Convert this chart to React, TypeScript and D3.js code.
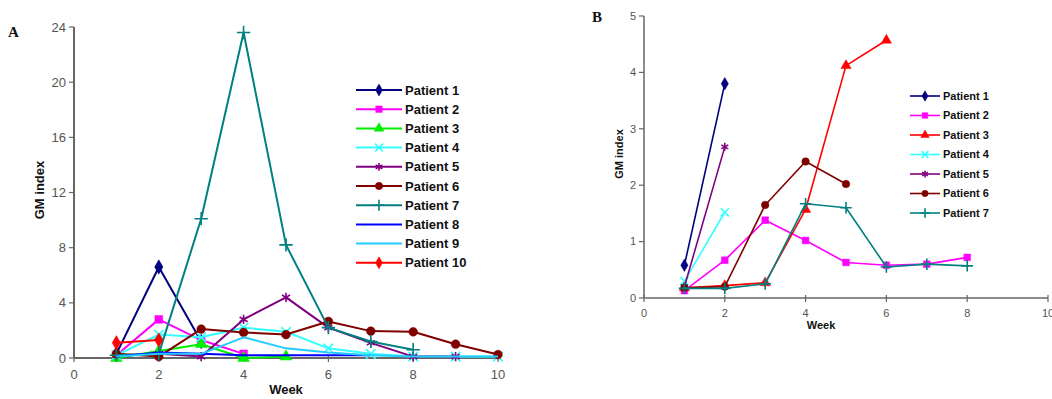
import React from "react";
import * as d3 from "d3";

const weeks = [1, 2, 3, 4, 5, 6, 7, 8, 9, 10];

// Panel A series (null = no measurement)
const aP1 = [0.3, 6.6, 1.2, null, null, null, null, null, null, null];
const aP2 = [0.2, 2.8, 1.3, 0.3, null, null, null, null, null, null];
const aP3 = [0.0, 0.5, 1.0, 0.0, 0.1, null, null, null, null, null];
const aP4 = [0.2, 1.7, 1.5, 2.2, 1.9, 0.7, 0.3, 0.1, 0.1, 0.1];
const aP5 = [0.2, 0.3, 0.1, 2.8, 4.4, 2.2, 1.1, 0.1, 0.1, null];
const aP6 = [0.3, 0.1, 2.1, 1.85, 1.7, 2.65, 1.95, 1.9, 1.0, 0.25];
const aP7 = [0.2, 0.3, 10.1, 23.6, 8.2, 2.2, 1.2, 0.6, null, null];
const aP8 = [0.1, 0.4, 0.3, 0.2, 0.2, 0.2, 0.2, null, null, null];
const aP9 = [0.1, 0.3, 0.3, 1.5, 0.7, 0.4, 0.2, 0.1, 0.1, 0.1];
const aP10 = [1.1, 1.3, null, null, null, null, null, null, null, null];

// Panel B series
const bP1 = [0.58, 3.8, null, null, null, null, null, null];
const bP2 = [0.13, 0.67, 1.38, 1.02, 0.63, 0.58, 0.6, 0.72];
const bP3 = [0.18, 0.22, 0.27, 1.57, 4.12, 4.57, null, null];
const bP4 = [0.3, 1.52, null, null, null, null, null, null];
const bP5 = [0.2, 2.68, null, null, null, null, null, null];
const bP6 = [0.18, 0.2, 1.65, 2.42, 2.02, null, null, null];
const bP7 = [0.17, 0.17, 0.25, 1.67, 1.6, 0.55, 0.6, 0.57];

const xTicks = [0, 2, 4, 6, 8, 10];
const aYTicks = [0, 4, 8, 12, 16, 20, 24];
const bYTicks = [0, 1, 2, 3, 4, 5];

type Marker = "diamond" | "square" | "triangle" | "x" | "asterisk" | "circle" | "plus" | "none";

interface Series {
  name: string;
  values: (number | null)[];
  color: string;
  marker: Marker;
}

const seriesA: Series[] = [
  { name: "Patient 1", values: aP1, color: "#000080", marker: "diamond" },
  { name: "Patient 2", values: aP2, color: "#ff00ff", marker: "square" },
  { name: "Patient 3", values: aP3, color: "#00ee00", marker: "triangle" },
  { name: "Patient 4", values: aP4, color: "#33ffff", marker: "x" },
  { name: "Patient 5", values: aP5, color: "#800080", marker: "asterisk" },
  { name: "Patient 6", values: aP6, color: "#800000", marker: "circle" },
  { name: "Patient 7", values: aP7, color: "#008080", marker: "plus" },
  { name: "Patient 8", values: aP8, color: "#0000ff", marker: "none" },
  { name: "Patient 9", values: aP9, color: "#22ccff", marker: "none" },
  { name: "Patient 10", values: aP10, color: "#ff0000", marker: "diamond" },
];

const seriesB: Series[] = [
  { name: "Patient 1", values: bP1, color: "#000080", marker: "diamond" },
  { name: "Patient 2", values: bP2, color: "#ff00ff", marker: "square" },
  { name: "Patient 3", values: bP3, color: "#ff0000", marker: "triangle" },
  { name: "Patient 4", values: bP4, color: "#33ffff", marker: "x" },
  { name: "Patient 5", values: bP5, color: "#800080", marker: "asterisk" },
  { name: "Patient 6", values: bP6, color: "#800000", marker: "circle" },
  { name: "Patient 7", values: bP7, color: "#008080", marker: "plus" },
];

const symbolType: Record<string, any> = {
  diamond: d3.symbolDiamond,
  square: d3.symbolSquare,
  triangle: d3.symbolTriangle,
  circle: d3.symbolCircle,
  x: d3.symbolX,
  asterisk: d3.symbolAsterisk,
  plus: d3.symbolPlus,
};

const stroked = new Set(["x", "asterisk", "plus"]);

function MarkerShape({ m, x, y, color, size }: { m: Marker; x: number; y: number; color: string; size: number }) {
  if (m === "none") return null;
  const d = d3.symbol().type(symbolType[m]).size(size)() as string;
  if (stroked.has(m)) {
    return <path d={d} transform={`translate(${x},${y})`} fill="none" stroke={color} strokeWidth={1.6} />;
  }
  return <path d={d} transform={`translate(${x},${y})`} fill={color} stroke={color} strokeWidth={0.5} />;
}

interface PanelProps {
  series: Series[];
  xRange: [number, number];
  yRange: [number, number];
  yMax: number;
  yTicks: number[];
  fontSize: number;
  lineWidth: number;
  markerSize: number;
  axisWidth: number;
  legendX: number;
  legendY: number;
  legendStep: number;
  legendFont: number;
  legendLen: number;
  yTitleX: number;
  yTitleY: number;
  xTitleX: number;
  xTitleY: number;
  titleFont: number;
  label: string;
  labelX: number;
  labelY: number;
}

function Panel(p: PanelProps) {
  const x = d3.scaleLinear().domain([0, 10]).range(p.xRange);
  const y = d3.scaleLinear().domain([0, p.yMax]).range(p.yRange);
  const line = d3
    .line<{ w: number; v: number | null }>()
    .defined((d) => d.v !== null)
    .x((d) => x(d.w))
    .y((d) => y(d.v as number));
  const axisColor = "#666";
  const y0 = y(0);
  const x0 = x(0);
  return (
    <g>
      <text x={p.labelX} y={p.labelY} fontFamily="Liberation Serif, serif" fontWeight="bold" fontSize={15} fill="#111">
        {p.label}
      </text>
      {/* axes */}
      <line x1={x0} x2={x0} y1={y0} y2={p.yRange[1]} stroke={axisColor} strokeWidth={p.axisWidth} />
      <line x1={x0} x2={p.xRange[1]} y1={y0} y2={y0} stroke={axisColor} strokeWidth={p.axisWidth} />
      {p.yTicks.map((t) => (
        <g key={"y" + t}>
          <line x1={x0 - 5} x2={x0} y1={y(t)} y2={y(t)} stroke={axisColor} strokeWidth={1.2} />
          <text x={x0 - 8} y={y(t)} dy="0.35em" textAnchor="end" fontFamily="Liberation Sans, Arial, sans-serif" fontSize={p.fontSize} fill="#555">
            {t}
          </text>
        </g>
      ))}
      {xTicks.map((t) => (
        <g key={"x" + t}>
          <line x1={x(t)} x2={x(t)} y1={y0 - 3} y2={y0 + 4} stroke={axisColor} strokeWidth={1.2} />
          <text x={x(t)} y={y0 + p.fontSize + 8} textAnchor="middle" fontFamily="Liberation Sans, Arial, sans-serif" fontSize={p.fontSize} fill="#555">
            {t}
          </text>
        </g>
      ))}
      <text
        transform={`translate(${p.yTitleX},${p.yTitleY}) rotate(-90)`}
        textAnchor="middle"
        fontFamily="Liberation Sans, Arial, sans-serif"
        fontWeight="bold"
        fontSize={p.titleFont}
        fill="#111"
      >
        GM index
      </text>
      <text x={p.xTitleX} y={p.xTitleY} textAnchor="middle" fontFamily="Liberation Sans, Arial, sans-serif" fontWeight="bold" fontSize={p.titleFont} fill="#111">
        Week
      </text>
      {/* series */}
      {p.series.map((s) => {
        const pts = s.values.map((v, i) => ({ w: weeks[i], v }));
        return (
          <g key={s.name}>
            <path d={line(pts) as string} fill="none" stroke={s.color} strokeWidth={p.lineWidth} strokeLinejoin="round" />
            {pts
              .filter((d) => d.v !== null)
              .map((d) => (
                <MarkerShape key={d.w} m={s.marker} x={x(d.w)} y={y(d.v as number)} color={s.color} size={p.markerSize} />
              ))}
          </g>
        );
      })}
      {/* legend */}
      {p.series.map((s, i) => {
        const ly = p.legendY + i * p.legendStep;
        return (
          <g key={"l" + s.name}>
            <line x1={p.legendX} x2={p.legendX + p.legendLen} y1={ly} y2={ly} stroke={s.color} strokeWidth={p.lineWidth} />
            <MarkerShape m={s.marker} x={p.legendX + p.legendLen / 2} y={ly} color={s.color} size={p.markerSize * 0.7} />
            <text x={p.legendX + p.legendLen + 3} y={ly} dy="0.35em" fontFamily="Liberation Sans, Arial, sans-serif" fontWeight="bold" fontSize={p.legendFont} fill="#111">
              {s.name}
            </text>
          </g>
        );
      })}
    </g>
  );
}

export default function App() {
  return (
    <svg width={1052} height={399} style={{ position: "absolute", left: 0, top: 0, background: "#fff" }}>
      <rect width={1052} height={399} fill="#fff" />
      <Panel
        series={seriesA}
        xRange={[74, 498]}
        yRange={[358, 27]}
        yMax={24}
        yTicks={aYTicks}
        fontSize={13}
        lineWidth={2}
        markerSize={60}
        axisWidth={2}
        legendX={356}
        legendY={90}
        legendStep={19.2}
        legendFont={13}
        legendLen={46}
        yTitleX={44}
        yTitleY={190}
        xTitleX={286}
        xTitleY={394}
        titleFont={13}
        label="A"
        labelX={8}
        labelY={37}
      />
      <Panel
        series={seriesB}
        xRange={[644, 1048]}
        yRange={[298, 16]}
        yMax={5}
        yTicks={bYTicks}
        fontSize={11}
        lineWidth={1.6}
        markerSize={45}
        axisWidth={1.5}
        legendX={910}
        legendY={96}
        legendStep={19.5}
        legendFont={11}
        legendLen={30}
        yTitleX={623}
        yTitleY={154}
        xTitleX={821}
        xTitleY={329}
        titleFont={11}
        label="B"
        labelX={592}
        labelY={22}
      />
    </svg>
  );
}
